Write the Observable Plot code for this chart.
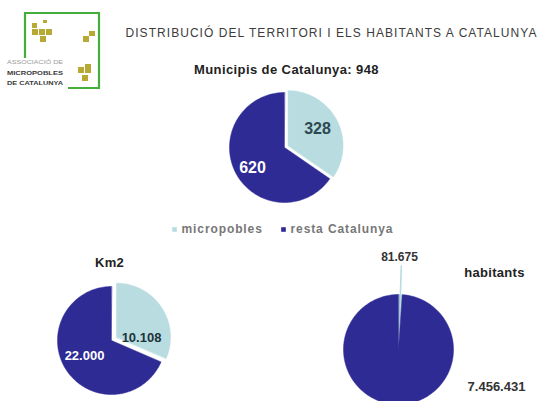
<!DOCTYPE html>
<html><head><meta charset="utf-8">
<script src="https://cdn.jsdelivr.net/npm/d3@7"></script>
<script src="https://cdn.jsdelivr.net/npm/@observablehq/plot@0.6"></script>
<style>
body{margin:0;background:#fff;}
#wrap{position:relative;width:548px;height:401px;overflow:hidden;background:#fff;font-family:"Liberation Sans",Arial,sans-serif;}
#wrap svg{position:absolute;left:0;top:0;}
</style>
</head><body><div id="wrap"></div>
<script>
// ---- data ----
const categories = ["micropobles", "resta Catalunya"];
const municipis = [328, 620];
const km2 = [10108, 22000];
const habitants = [81675, 7456431];
const titleText = "DISTRIBUCIÓ DEL TERRITORI I ELS HABITANTS A CATALUNYA";
const municipisTitle = "Municipis de Catalunya: 948";
const km2Title = "Km2";
const habitantsTitle = "habitants";
const logoLines = ["ASSOCIACIÓ DE", "MICROPOBLES", "DE CATALUNYA"];

const colors = ["#b8dce0", "#2e2b95"];
const fmt = d3.formatLocale({decimal: ",", thousands: ".", grouping: [3], currency: ["", " €"]}).format(",d");

// ---- layout (pixel space) ----
const pies = [
  {key: "mun", values: municipis, cx: 284, cy: 147, r: 55, explode: [4, 0],
   labels: [{dx: 33, dy: -19, fill: "#2c4852", size: 16}, {dx: -32, dy: 20, fill: "#fff", size: 16}]},
  {key: "km2", values: km2, cx: 111, cy: 340, r: 54, explode: [6, 0],
   labels: [{dx: 30, dy: -3, fill: "#1d333c", size: 13}, {dx: -27, dy: 15, fill: "#fff", size: 13}]},
  {key: "hab", values: habitants, cx: 398, cy: 349, r: 55, explode: [0, 0],
   labels: [{dx: 1, dy: -92, fill: "#333", size: 12}, {dx: 98, dy: 37, fill: "#333", size: 13}]}
];

function wedgePoints(p) {
  const arcs = d3.pie().sort(null)(p.values);
  const pts = [];
  arcs.forEach((a, i) => {
    const mid = (a.startAngle + a.endAngle) / 2;
    const d = p.explode[i];
    const ox = p.cx + d * Math.sin(mid), oy = p.cy - d * Math.cos(mid);
    const n = Math.max(2, Math.ceil((a.endAngle - a.startAngle) / (Math.PI / 120)));
    const id = p.key + i;
    pts.push({id, cat: i, x: ox, y: oy});
    for (let k = 0; k <= n; k++) {
      const t = a.startAngle + (a.endAngle - a.startAngle) * k / n;
      pts.push({id, cat: i, x: ox + p.r * Math.sin(t), y: oy - p.r * Math.cos(t)});
    }
  });
  return pts;
}

const slicePts = pies.flatMap(wedgePoints);
const sliceLabels = pies.flatMap(p => p.values.map((v, i) => ({
  text: fmt(v), x: p.cx + p.labels[i].dx, y: p.cy + p.labels[i].dy,
  fill: p.labels[i].fill, size: p.labels[i].size
})));

// leader line for the tiny habitants slice
const hab = pies[2];
const habArc = d3.pie().sort(null)(hab.values)[0];
const habMid = (habArc.startAngle + habArc.endAngle) / 2;
const leader = [{
  x1: hab.cx + hab.r * Math.sin(habMid), y1: hab.cy - hab.r * Math.cos(habMid),
  x2: hab.cx + (hab.r + 29) * Math.sin(habMid), y2: hab.cy - (hab.r + 29) * Math.cos(habMid)
}];

const legend = categories.map((c, i) => ({c, i, x: [174, 283][i], y: 229}));

const texts = [
  {text: titleText, x: 125, y: 33, size: 12, weight: "normal", fill: "#3c3c3c", anchor: "start", ls: 1.05},
  {text: municipisTitle, x: 286, y: 69, size: 13, weight: "bold", fill: "#222", anchor: "middle", ls: 0.4},
  {text: km2Title, x: 109, y: 262, size: 13, weight: "bold", fill: "#222", anchor: "middle", ls: 0.3},
  {text: habitantsTitle, x: 494, y: 272, size: 13, weight: "bold", fill: "#222", anchor: "middle", ls: 0.3}
];

const plot = Plot.plot({
  width: 548, height: 401, margin: 0,
  x: {domain: [0, 548], range: [0, 548], axis: null},
  y: {domain: [0, 401], range: [0, 401], axis: null},
  color: {type: "identity"},
  style: {fontFamily: "Liberation Sans, Arial, sans-serif", background: "transparent"},
  marks: [
    Plot.line(slicePts, {x: "x", y: "y", z: "id", fill: d => colors[d.cat], stroke: d => colors[d.cat], strokeWidth: 0.5, curve: "linear-closed"}),
    Plot.link(leader, {x1: "x1", y1: "y1", x2: "x2", y2: "y2", stroke: colors[0], strokeWidth: 1.6}),
    Plot.text(sliceLabels, {x: "x", y: "y", text: "text", fill: "fill", fontSize: "size", fontWeight: "bold"}),
    Plot.dot(legend, {x: "x", y: "y", fill: d => colors[d.i], symbol: "square", r: 2.6}),
    Plot.text(legend, {x: d => d.x + 7, y: "y", text: "c", textAnchor: "start", fill: "#777", fontSize: 12, fontWeight: "bold"}),
    ...texts.map(t => Plot.text([t], {x: "x", y: "y", text: "text", fill: "fill", fontSize: t.size, fontWeight: t.weight, textAnchor: t.anchor}))
  ]
});
document.getElementById("wrap").appendChild(plot);

// letter spacing tweaks
d3.select(plot).selectAll("text").each(function() {
  const s = this.textContent;
  const t = texts.find(t => t.text === s);
  if (t) this.setAttribute("letter-spacing", t.ls);
  if (categories.includes(s)) this.setAttribute("letter-spacing", 0.9);
});

// logo
const ns = "http://www.w3.org/2000/svg";
const logo = d3.select("#wrap").append("svg").attr("width", 110).attr("height", 95);
const g = logo.append("g");
g.append("path").attr("d", "M25,58V13H99V88H68").attr("fill", "none").attr("stroke", "#45ae3a").attr("stroke-width", 2.2);
const blocks = [[32,23,5,5],[43,20,4,3],[32,29,6,6],[39,29,6,6],[46,29,6,6],[40,36,6,6],[89,31,6,5],[83,36,6,6],[78,67,6,6],[85,64,6,9],[82,75,6,6]];
g.selectAll("rect.b").data(blocks).join("rect").attr("x", d => d[0]).attr("y", d => d[1]).attr("width", d => d[2]).attr("height", d => d[3]).attr("fill", "#b8a935");
g.selectAll("text").data(logoLines).join("text")
  .attr("x", 7).attr("y", (d, i) => 64 + i * 10.5)
  .attr("textLength", 56).attr("lengthAdjust", "spacingAndGlyphs")
  .attr("font-family", "Liberation Sans, Arial, sans-serif")
  .attr("font-size", (d, i) => i === 0 ? 6 : 6.2)
  .attr("font-weight", (d, i) => i === 0 ? "normal" : "bold")
  .attr("fill", (d, i) => i === 0 ? "#9a9a9a" : "#3a3a3a")
  .text(d => d);
</script>
</body></html>
